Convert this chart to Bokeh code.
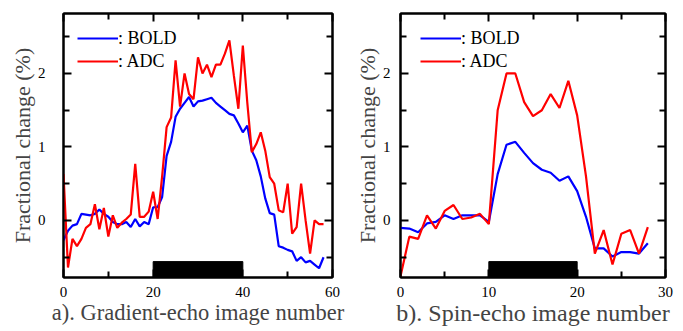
from bokeh.plotting import figure
from bokeh.layouts import row
from bokeh.models import FixedTicker, LinearAxis, Range1d, Legend, LegendItem, CustomJSTickFormatter
from bokeh.embed import file_html
from bokeh.resources import INLINE

# ---- data: panel a (gradient echo) ----
ge_x = list(range(0, 59))
ge_bold = [-0.27, -0.14, -0.07, -0.05, 0.09, 0.08, 0.07, 0.09, 0.15, 0.09,
           0.05, -0.02, -0.05, -0.05, -0.02, -0.09, 0.02, -0.08, -0.02, -0.05,
           0.18, 0.18, 0.32, 0.88, 1.07, 1.41, 1.52, 1.6, 1.68, 1.55,
           1.62, 1.63, 1.65, 1.67, 1.6, 1.55, 1.5, 1.45, 1.43, 1.32,
           1.2, 1.29, 0.95, 0.82, 0.6, 0.3, 0.1, 0.08, -0.35, -0.37,
           -0.4, -0.42, -0.55, -0.5, -0.57, -0.55, -0.6, -0.65, -0.5]
ge_adc = [0.63, -0.64, -0.25, -0.35, -0.25, -0.1, -0.05, 0.22, -0.12, 0.17,
          -0.22, 0.07, -0.1, -0.03, 0.02, 0.08, 0.77, 0.05, 0.05, 0.12,
          0.39, 0.02, 0.6, 1.27, 1.4, 2.18, 1.55, 2.0, 1.72, 1.65,
          2.22, 2.0, 2.12, 1.95, 2.12, 2.12, 2.27, 2.45, 1.97, 1.52,
          2.38, 1.6, 0.93, 1.04, 1.2, 0.95, 0.59, 0.5, 0.14, 0.11,
          0.5, -0.18, -0.09, 0.5, 0.0, -0.45, 0.0, -0.05, -0.05]

# ---- data: panel b (spin echo) ----
se_x = list(range(0, 29))
se_bold = [-0.1, -0.11, -0.16, -0.04, -0.02, 0.07, 0.02, 0.07, 0.07, 0.07,
           -0.02, 0.63, 1.03, 1.07, 0.92, 0.78, 0.69, 0.65, 0.54, 0.6,
           0.4, 0.05, -0.38, -0.38, -0.49, -0.43, -0.43, -0.45, -0.31]
se_adc = [-0.76, -0.22, -0.25, 0.07, -0.11, 0.13, 0.21, 0.02, 0.04, 0.09,
          -0.05, 1.5, 2.0, 2.0, 1.61, 1.42, 1.5, 1.72, 1.53, 1.9,
          1.43, 0.6, -0.45, -0.13, -0.6, -0.18, -0.13, -0.45, -0.09]

# stimulus blocks
ge_block = (20, 40)
se_block = (10, 20)
block_top = -0.56

y_lo, y_hi = -0.776, 2.816
y_major = [0, 1, 2]
y_minor = [-0.5, 0.5, 1.5, 2.5]

SERIF = "Liberation Serif"


def make_panel(xs, bold, adc, x_end, x_major, x_minor, block, xlabel,
               width, bl, br, leg_x, ystand, xlab_size):
    p = figure(width=width, height=331, output_backend="svg",
               toolbar_location=None, x_range=Range1d(0, x_end),
               y_range=Range1d(y_lo, y_hi),
               min_border_left=bl, min_border_right=br,
               min_border_top=13, min_border_bottom=54,
               x_axis_type=None, y_axis_type=None)
    p.outline_line_color = "black"
    p.outline_line_width = 2
    p.xgrid.visible = False
    p.ygrid.visible = False
    p.background_fill_color = "white"
    p.border_fill_color = "white"

    def style(ax, ticks, minor, show):
        ax.ticker = FixedTicker(ticks=ticks, minor_ticks=minor)
        ax.axis_line_width = 2
        ax.axis_line_color = "black"
        ax.major_tick_in = 8
        ax.major_tick_out = 0
        ax.minor_tick_in = 6
        ax.minor_tick_out = 0
        ax.major_tick_line_width = 2
        ax.minor_tick_line_width = 2
        ax.major_label_text_font = SERIF
        ax.major_label_text_color = "black"
        if not show:
            ax.formatter = CustomJSTickFormatter(code="return ''")
            ax.major_label_standoff = 0
        return ax

    xb = style(LinearAxis(), x_major, x_minor, True)
    xb.major_label_text_font_size = "15px"
    xb.major_label_standoff = 9
    xb.axis_label = xlabel
    xb.axis_label_text_font = SERIF
    xb.axis_label_text_font_size = xlab_size
    xb.axis_label_text_font_style = "normal"
    xb.axis_label_standoff = 0
    p.add_layout(xb, "below")

    yl = style(LinearAxis(), y_major, y_minor, True)
    yl.major_label_text_font_size = "15px"
    yl.major_label_standoff = ystand
    yl.axis_label = "Fractional change (%)"
    yl.axis_label_text_font = SERIF
    yl.axis_label_text_font_size = "22px"
    yl.axis_label_text_font_style = "normal"
    yl.axis_label_standoff = 0
    p.add_layout(yl, "left")

    p.add_layout(style(LinearAxis(), x_major, x_minor, False), "above")
    p.add_layout(style(LinearAxis(), y_major, y_minor, False), "right")

    p.quad(left=[block[0]], right=[block[1]], bottom=[y_lo], top=[block_top],
           fill_color="black", line_color="black")

    rb = p.line(xs, bold, line_color="#0000ff", line_width=2.2)
    ra = p.line(xs, adc, line_color="#ff0000", line_width=2.2)

    leg = Legend(items=[LegendItem(label=": BOLD", renderers=[rb]),
                        LegendItem(label=": ADC", renderers=[ra])],
                 location=(leg_x, 205))
    leg.margin = 0
    leg.padding = 0
    leg.spacing = 1
    leg.glyph_width = 41
    leg.glyph_height = 22
    leg.label_height = 22
    leg.label_standoff = 0
    leg.border_line_color = None
    leg.background_fill_alpha = 0
    leg.label_text_font = SERIF
    leg.label_text_font_size = "18px"
    leg.label_text_color = "black"
    p.add_layout(leg)
    return p


pa = make_panel(ge_x, ge_bold, ge_adc, 60, [0, 20, 40, 60], [10, 30, 50],
                ge_block, "a). Gradient-echo image number", 351, 63, 19, 14, 18,
                "22.5px")
pb = make_panel(se_x, se_bold, se_adc, 30, [0, 10, 20, 30], [5, 15, 25],
                se_block, "b). Spin-echo image number", 332, 47, 18, 20, 10,
                "24px")

layout = row(pa, pb)
open("out.html", "w").write(file_html(layout, INLINE))
